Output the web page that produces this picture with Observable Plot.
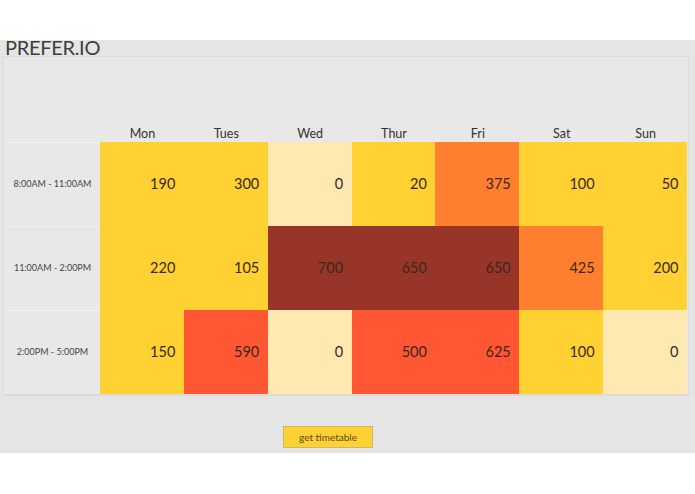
<!DOCTYPE html>
<html>
<head>
<meta charset="utf-8">
<script src="https://cdn.jsdelivr.net/npm/d3@7"></script>
<script src="https://cdn.jsdelivr.net/npm/@observablehq/plot@0.6"></script>
<style>
  html, body { margin: 0; padding: 0; background: #fff; }
  #page { position: absolute; left: 0; top: 40px; width: 695px; height: 413px; background: #e5e5e5; font-family: Lato, "Open Sans", sans-serif; }
  #title { position: absolute; left: 5px; top: -5px; z-index: 2; font-size: 20px; line-height: 24px; color: #3d3d3d; letter-spacing: -0.3px; }
  #panel { position: absolute; left: 4px; top: 17px; width: 684px; height: 337px; background: #e8e8e8; box-shadow: 0 0 0 1px #dcdcdc, 0 1px 1px 0 #a8a8a8; }
  #panel svg { display: block; }
  #btn { position: absolute; left: 283px; top: 386px; width: 90px; height: 22px; box-sizing: border-box; background: #ffd133; border: 1px solid #c9b870; font-family: Lato, sans-serif; font-size: 10px; color: #5a4a20; display: flex; align-items: center; justify-content: center; }
</style>
</head>
<body>
<div id="page">
  <div id="title">PREFER.IO</div>
  <div id="panel"></div>
  <div id="btn">get timetable</div>
</div>
<script>
const days = ["Mon", "Tues", "Wed", "Thur", "Fri", "Sat", "Sun"];
const slots = ["8:00AM - 11:00AM", "11:00AM - 2:00PM", "2:00PM - 5:00PM"];
const morning = [190, 300, 0, 20, 375, 100, 50];
const midday = [220, 105, 700, 650, 650, 425, 200];
const afternoon = [150, 590, 0, 500, 625, 100, 0];
const thresholds = [1, 350, 450, 640];
const palette = ["#ffe9b2", "#ffd133", "#ff7f2e", "#ff5733", "#973628"];

const series = [morning, midday, afternoon];
const table = [];
slots.forEach((s, i) => days.forEach((d, j) => table.push({slot: s, day: d, value: series[i][j]})));

const W = 684, H = 337, ML = 96, MR = 1, MT = 85, MB = 0;
const bw = (W - ML - MR) / days.length;
const bh = (H - MT - MB) / slots.length;

const chart = Plot.plot({
  width: W, height: H,
  marginLeft: ML, marginRight: MR, marginTop: MT, marginBottom: MB,
  style: {background: "transparent", fontFamily: "Lato, 'Open Sans', sans-serif"},
  x: {domain: days, padding: 0, round: false, axis: null},
  y: {domain: slots, padding: 0, round: false, axis: null},
  color: {type: "threshold", domain: thresholds, range: palette},
  marks: [
    Plot.cell(table, {x: "day", y: "slot", fill: "value", shapeRendering: "crispEdges"}),
    Plot.text(table, {x: "day", y: "slot", text: d => String(d.value), textAnchor: "end", dx: bw / 2 - 9, fontSize: 14.5, fill: "#3a2818"}),
    Plot.axisX({anchor: "top", tickSize: 0, tickPadding: 5, fontSize: 12.5, fill: "#333", label: null}),
    Plot.axisY({anchor: "left", tickSize: 0, tickPadding: ML / 2, textAnchor: "middle", fontSize: 9, fill: "#444", label: null}),
    Plot.axisY({anchor: "left", tickSize: ML, text: null, dy: -bh / 2, stroke: "#f2f2f2", strokeWidth: 1, label: null})
  ]
});
document.getElementById("panel").appendChild(chart);
</script>
</body>
</html>
